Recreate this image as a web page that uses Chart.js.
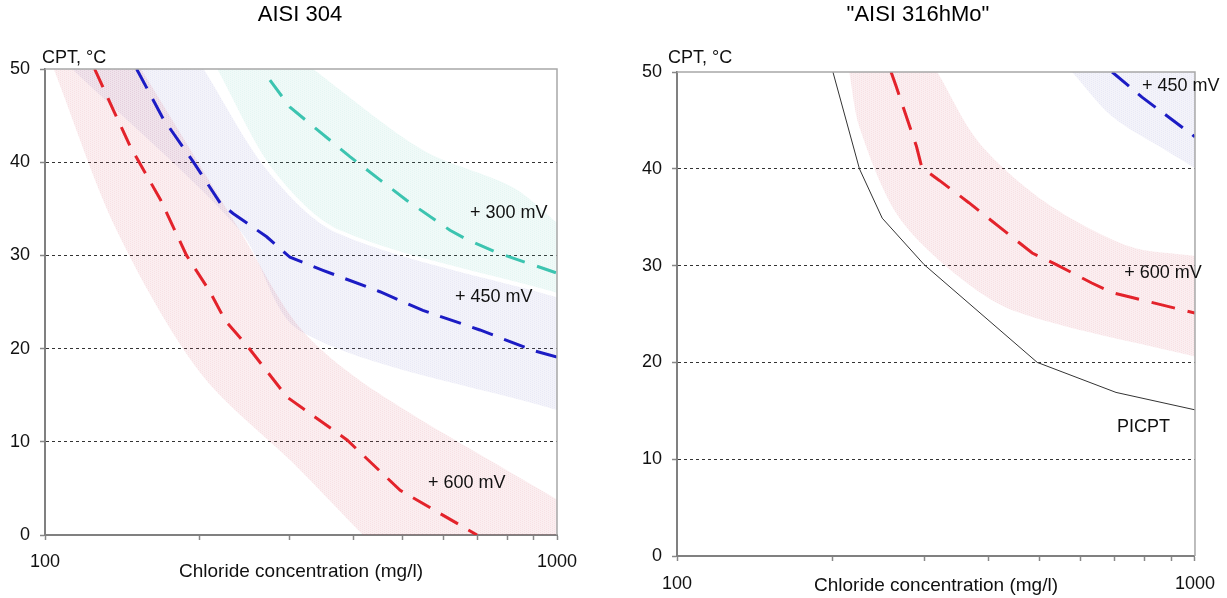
<!DOCTYPE html>
<html><head><meta charset="utf-8">
<script src="https://cdn.jsdelivr.net/npm/chart.js@4.4.1/dist/chart.umd.min.js"></script>
<style>
html,body{margin:0;padding:0;background:#fff;width:1227px;height:598px;overflow:hidden}
canvas{position:absolute;top:0}
#c1{left:0}
#c2{left:609px}
</style></head><body>
<canvas id="c1" width="600" height="598"></canvas>
<canvas id="c2" width="618" height="598"></canvas>
<script>
// ---------------- data ----------------
const xTicks = [100, 200, 300, 400, 500, 600, 700, 800, 900, 1000];
const xTickLabels = ['100', '', '', '', '', '', '', '', '', '1000'];
const yTicks = [0, 10, 20, 30, 40, 50];

// AISI 304 – CPT curves (chloride mg/l vs °C)
const a304_600_conc = [125, 136, 147, 168, 189, 210, 225, 249, 297, 389, 494, 698];
const a304_600_cpt  = [50, 45.6, 41.6, 36, 30, 26.1, 23, 20.2, 14.8, 10.2, 4.8, 0];
const a304_450_conc = [151, 170, 195, 220, 233, 271, 301, 349, 451, 547, 707, 898, 1000];
const a304_450_cpt  = [50, 44.7, 40, 35.6, 34.5, 32, 29.8, 28.4, 26.1, 24.1, 22, 19.8, 19.1];
const a304_300_conc = [275, 301, 340, 394, 451, 509, 618, 667, 764, 1000];
const a304_300_cpt  = [48.8, 45.9, 43.5, 40.6, 38.1, 35.9, 32.7, 31.7, 30.3, 28.1];

// AISI 304 – scatter bands (upper / lower edges; parts beyond 0–50 °C are clipped)
const a304_band600_up_conc = [104, 154, 240, 315, 437, 1000];
const a304_band600_up_cpt  = [65, 50, 32.7, 22.2, 15.6, 3.8];
const a304_band600_lo_conc = [104, 138, 201, 312, 418, 1000];
const a304_band600_lo_cpt  = [50, 32.7, 17.4, 7.2, 0, -21];
const a304_band450_up_conc = [113, 204, 271, 372, 1000];
const a304_band450_up_cpt  = [72, 50, 39.2, 32.4, 25.5];
const a304_band450_lo_conc = [113, 240, 315, 1000];
const a304_band450_lo_cpt  = [50, 32.7, 21.9, 13.4];
const a304_band300_up_conc = [217, 334, 547, 820, 1000];
const a304_band300_up_cpt  = [58, 50, 41.3, 37.3, 33.5];
const a304_band300_lo_conc = [217, 279, 377, 1000];
const a304_band300_lo_cpt  = [50, 39.2, 32.7, 26];

// "AISI 316hMo" – curves
const a316_600_conc = [259, 265, 290, 297, 321, 366, 419, 485, 540, 632, 692, 756, 1000];
const a316_600_cpt  = [50, 48.5, 42.3, 40.1, 38.8, 36.5, 34, 31.3, 30.1, 28.2, 27.2, 26.7, 25.1];
const a316_450_conc = [692, 790, 1000];
const a316_450_cpt  = [50, 47.4, 43.3];
const a316_picpt_conc = [200, 225, 249, 300, 496, 704, 1000];
const a316_picpt_cpt  = [50, 40, 34.9, 30.1, 20, 16.9, 15.1];

// "AISI 316hMo" – bands
const a316_band600_up_conc = [215, 318, 383, 516, 746, 1000];
const a316_band600_up_cpt  = [65, 50, 42.7, 36.5, 32, 31];
const a316_band600_lo_conc = [215, 225, 265, 331, 444, 1000];
const a316_band600_lo_cpt  = [50, 44.3, 35.4, 29.9, 25.4, 20.6];
const a316_band450_up_conc = [579, 1000];
const a316_band450_up_cpt  = [56, 56];
const a316_band450_lo_conc = [579, 692, 879, 1000];
const a316_band450_lo_cpt  = [50, 45.4, 41.9, 40.1];

// text labels in the plots
const labels304 = ['+ 300 mV', '+ 450 mV', '+ 600 mV'];
const labels304Conc = [676, 632, 560];
const labels304Cpt = [34.5, 25.5, 5.6];
const labels316 = ['+ 450 mV', '+ 600 mV', 'PICPT'];
const labels316Conc = [790, 730, 707];
const labels316Cpt = [48.6, 29.2, 13.3];

// ---------------- helpers ----------------
const FONT = '"Liberation Sans", Arial, Helvetica, sans-serif';
Chart.defaults.font.family = FONT;
Chart.defaults.color = '#111';

function pts(xs, ys) { return xs.map((x, i) => ({x: x, y: ys[i]})); }

function makePattern(r, g, b, a) {
  const c = document.createElement('canvas');
  c.width = 4; c.height = 4;
  const x = c.getContext('2d');
  for (let i = 0; i < 4; i++) for (let j = 0; j < 4; j++) {
    const k = ((i + 2 * j) % 4 === 0) ? a * 1.5 : a * 0.85;
    x.fillStyle = 'rgba(' + r + ',' + g + ',' + b + ',' + k + ')';
    x.fillRect(i, j, 1, 1);
  }
  return x.createPattern(c, 'repeat');
}
const PINK = makePattern(215, 95, 110, 0.125);
const LAV = makePattern(130, 130, 200, 0.115);
const CYAN = makePattern(80, 195, 175, 0.1);

function curve(xs, ys, color, width, dash) {
  return {data: pts(xs, ys), borderColor: color, borderWidth: width, borderDash: dash,
          pointRadius: 0, fill: false, tension: 0};
}
function bandUp(xs, ys, pat) {
  return {data: pts(xs, ys), borderWidth: 0, pointRadius: 0, backgroundColor: pat, fill: '+1', tension: 0.3};
}
function bandLo(xs, ys) {
  return {data: pts(xs, ys), borderWidth: 0, pointRadius: 0, fill: false, tension: 0.3};
}

const deco = {
  id: 'deco',
  afterDatasetsDraw(chart, args, o) {
    const {ctx, chartArea: a, scales} = chart;
    ctx.save();
    ctx.strokeStyle = '#a8a8a8';
    ctx.lineWidth = 1.5;
    ctx.beginPath();
    ctx.moveTo(a.left, a.top); ctx.lineTo(a.right, a.top); ctx.lineTo(a.right, a.bottom);
    ctx.stroke();
    ctx.fillStyle = '#111';
    ctx.font = '18px ' + FONT;
    ctx.textBaseline = 'middle';
    ctx.textAlign = 'left';
    o.texts.forEach((t, i) => {
      ctx.fillText(t, scales.x.getPixelForValue(o.xs[i]), scales.y.getPixelForValue(o.ys[i]));
    });
    ctx.fillText('CPT, °C', a.left + o.cptDx, a.top + o.cptDy);
    ctx.restore();
  }
};

function makeChart(id, conf) {
  return new Chart(document.getElementById(id), {
    type: 'line',
    data: {datasets: conf.datasets},
    plugins: [deco],
    options: {
      responsive: false, animation: false, devicePixelRatio: 1,
      layout: {padding: 0},
      plugins: {
        legend: {display: false}, tooltip: {enabled: false},
        title: {display: true, text: conf.title, color: '#000',
                font: {size: 22, weight: 'normal'}, padding: {top: 2, bottom: conf.titleBottom}},
        deco: conf.deco
      },
      scales: {
        x: {
          type: 'logarithmic', min: 100, max: 1000,
          afterBuildTicks: s => { s.ticks = xTicks.map(v => ({value: v})); },
          afterFit: s => { s.height = conf.xHeight; },
          ticks: {autoSkip: false, maxRotation: 0, padding: conf.xTickPad, color: '#111',
                  font: {size: 18}, callback: (v, i) => xTickLabels[i]},
          grid: {drawOnChartArea: false, drawTicks: true, tickLength: 5, tickColor: '#888', tickWidth: 1.5},
          border: {color: '#808080', width: 2},
          title: {display: true, text: 'Chloride concentration (mg/l)', color: '#111',
                  font: {size: 19}, padding: {top: 0, bottom: conf.xTitlePad}}
        },
        y: {
          type: 'linear', min: 0, max: 50,
          afterBuildTicks: s => { s.ticks = yTicks.map(v => ({value: v})); },
          afterFit: s => { s.width = conf.yWidth; },
          ticks: {padding: 10, color: '#111', font: {size: 18}},
          grid: {
            color: c => (c.tick && (c.tick.value === 0 || c.tick.value === 50)) ? 'rgba(0,0,0,0)' : '#333',
            lineWidth: 1, tickLength: 5, tickColor: '#888', tickWidth: 1.5
          },
          border: {color: '#808080', width: 2, dash: [3, 3]}
        },
        yr: {
          type: 'linear', position: 'right', min: 0, max: 1, display: true,
          afterFit: s => { s.width = conf.rightWidth; },
          ticks: {display: false}, grid: {display: false}, border: {display: false}
        }
      }
    }
  });
}

const RED = '#e3232b', BLUE = '#1c1cc4', TEAL = '#3cc4b0';

makeChart('c1', {
  title: 'AISI 304', titleBottom: 40.6, xHeight: 63, xTickPad: 11, xTitlePad: 14.6,
  yWidth: 45, rightWidth: 43,
  deco: {texts: labels304, xs: labels304Conc, ys: labels304Cpt, cptDx: -3, cptDy: -11},
  datasets: [
    curve(a304_600_conc, a304_600_cpt, RED, 3, [20, 12]),
    curve(a304_450_conc, a304_450_cpt, BLUE, 3, [22, 12]),
    curve(a304_300_conc, a304_300_cpt, TEAL, 3, [20, 13]),
    bandUp(a304_band600_up_conc, a304_band600_up_cpt, PINK),
    bandLo(a304_band600_lo_conc, a304_band600_lo_cpt),
    bandUp(a304_band450_up_conc, a304_band450_up_cpt, LAV),
    bandLo(a304_band450_lo_conc, a304_band450_lo_cpt),
    bandUp(a304_band300_up_conc, a304_band300_up_cpt, CYAN),
    bandLo(a304_band300_lo_conc, a304_band300_lo_cpt)
  ]
});

makeChart('c2', {
  title: '"AISI 316hMo"', titleBottom: 43.6, xHeight: 42, xTickPad: 12, xTitlePad: 0.6,
  yWidth: 68, rightWidth: 31,
  deco: {texts: labels316, xs: labels316Conc, ys: labels316Cpt, cptDx: -9, cptDy: -14},
  datasets: [
    curve(a316_picpt_conc, a316_picpt_cpt, '#333', 1, []),
    curve(a316_600_conc, a316_600_cpt, RED, 3, [24, 13]),
    curve(a316_450_conc, a316_450_cpt, BLUE, 3, [22, 12]),
    bandUp(a316_band600_up_conc, a316_band600_up_cpt, PINK),
    bandLo(a316_band600_lo_conc, a316_band600_lo_cpt),
    bandUp(a316_band450_up_conc, a316_band450_up_cpt, LAV),
    bandLo(a316_band450_lo_conc, a316_band450_lo_cpt)
  ]
});
</script>
</body></html>
